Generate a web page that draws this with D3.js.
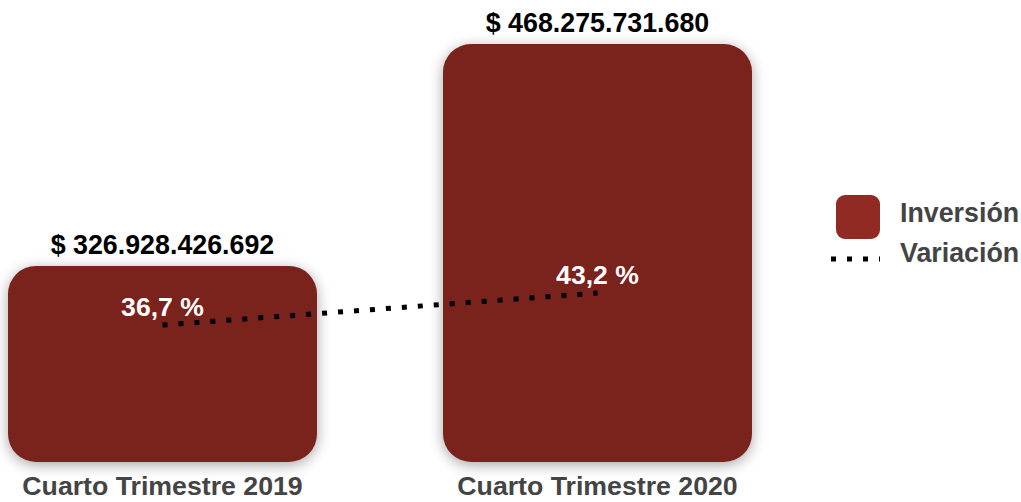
<!DOCTYPE html>
<html><head><meta charset="utf-8">
<script src="https://cdn.jsdelivr.net/npm/d3@7/dist/d3.min.js"></script>
<style>body{margin:0;background:#fff}svg{display:block}</style>
</head><body>
<svg id="c" width="1021" height="502"></svg>
<script>
const categories = ["Cuarto Trimestre 2019", "Cuarto Trimestre 2020"];
const inversion = [326928426692, 468275731680];
const inversionLabels = ["$ 326.928.426.692", "$ 468.275.731.680"];
const variacion = [36.7, 43.2];
const variacionLabels = ["36,7 %", "43,2 %"];
const legendLabels = ["Inversión", "Variación"];

const svg = d3.select("#c");
const font = "'Liberation Sans', Arial, Helvetica, sans-serif";
const barColor = "#7a241c";

const defs = svg.append("defs");
const f = defs.append("filter").attr("id","sh").attr("x","-20%").attr("y","-20%").attr("width","140%").attr("height","140%");
f.append("feDropShadow").attr("dx",0).attr("dy",3).attr("stdDeviation",7).attr("flood-color","#000").attr("flood-opacity",0.35);

const x = d3.scaleBand().domain(categories).range([8, 752]).paddingInner(0.2897).paddingOuter(0);
const y = d3.scaleLinear().domain([202.1e9, 468.28e9]).range([462, 44]);
const y2 = d3.scaleLinear().domain([0, 100]).range([505.7, 13.4]);

svg.selectAll("rect.bar").data(categories).join("rect").attr("class","bar")
  .attr("x", d => x(d)).attr("width", x.bandwidth())
  .attr("y", (d,i) => y(inversion[i])).attr("height", (d,i) => y(y.domain()[0]) - y(inversion[i]))
  .attr("rx", 28).attr("ry", 28).attr("fill", barColor).attr("filter","url(#sh)");

svg.selectAll("text.val").data(categories).join("text").attr("class","val")
  .attr("x", d => x(d) + x.bandwidth()/2).attr("y", (d,i) => y(inversion[i]) - 12)
  .attr("text-anchor","middle").attr("font-family",font).attr("font-weight","bold")
  .attr("font-size",26.8).attr("fill","#000").text((d,i) => inversionLabels[i]);

svg.selectAll("text.cat").data(categories).join("text").attr("class","cat")
  .attr("x", d => x(d) + x.bandwidth()/2).attr("y", 495)
  .attr("text-anchor","middle").attr("font-family",font).attr("font-weight","bold")
  .attr("font-size",26.7).attr("fill","#444").text(d => d);

const line = d3.line().x((d,i) => x(categories[i]) + x.bandwidth()/2).y(d => y2(d));
svg.append("path").datum(variacion).attr("d", line).attr("fill","none")
  .attr("stroke","#000").attr("stroke-width",5).attr("stroke-dasharray","5 11");

svg.selectAll("text.pct").data(variacion).join("text").attr("class","pct")
  .attr("x", (d,i) => x(categories[i]) + x.bandwidth()/2).attr("y", d => y2(d) - 9)
  .attr("text-anchor","middle").attr("font-family",font).attr("font-weight","bold")
  .attr("font-size",26.6).attr("fill","#fff").text((d,i) => variacionLabels[i]);

// legend
const lg = svg.append("g");
lg.append("rect").attr("x",836).attr("y",195).attr("width",44).attr("height",44).attr("rx",9)
  .attr("fill","#902a22");
lg.append("line").attr("x1",831).attr("x2",880).attr("y1",259).attr("y2",259)
  .attr("stroke","#000").attr("stroke-width",5).attr("stroke-dasharray","5 11");
lg.selectAll("text").data(legendLabels).join("text")
  .attr("x",900).attr("y",(d,i)=> 222 + i*40)
  .attr("font-family",font).attr("font-weight","bold").attr("font-size",26.8).attr("fill","#444").text(d=>d);
</script>
</body></html>
